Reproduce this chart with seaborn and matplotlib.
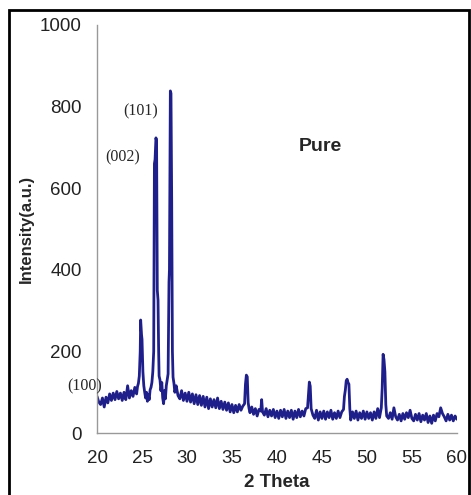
import matplotlib
matplotlib.use("Agg")
import matplotlib.pyplot as plt
import seaborn as sns
import pandas as pd
from matplotlib.patches import Rectangle

two_theta = [
    20.0, 20.2, 20.4, 20.6, 20.8, 21.0, 21.2, 21.4, 21.6, 21.8, 22.0, 22.2, 22.4, 22.6, 22.8,
    23.0, 23.2, 23.4, 23.6, 23.8, 24.0, 24.2, 24.4, 24.5, 24.6, 24.7, 24.8, 24.85, 24.95, 25.0,
    25.1, 25.2, 25.3, 25.4, 25.5, 25.6, 25.7, 25.8, 25.9, 26.0, 26.1, 26.2, 26.3, 26.38, 26.45,
    26.55, 26.62, 26.7, 26.78, 26.85, 26.9, 27.0, 27.1, 27.2, 27.3, 27.4, 27.5, 27.6, 27.7, 27.8,
    27.9, 28.0, 28.05, 28.15, 28.22, 28.3, 28.38, 28.45, 28.55, 28.65, 28.8, 29.0, 29.2, 29.4,
    29.6, 29.8, 30.0, 30.2, 30.4, 30.6, 30.8, 31.0, 31.2, 31.4, 31.6, 31.8, 32.0, 32.2, 32.4,
    32.6, 32.8, 33.0, 33.2, 33.4, 33.6, 33.8, 34.0, 34.2, 34.4, 34.6, 34.8, 35.0, 35.2, 35.4,
    35.6, 35.8, 36.0, 36.2, 36.4, 36.5, 36.6, 36.7, 36.8, 36.9, 37.0, 37.2, 37.4, 37.6, 37.8,
    38.0, 38.2, 38.3, 38.4, 38.6, 38.8, 39.0, 39.2, 39.4, 39.6, 39.8, 40.0, 40.2, 40.4, 40.6,
    40.8, 41.0, 41.2, 41.4, 41.6, 41.8, 42.0, 42.2, 42.4, 42.6, 42.8, 43.0, 43.2, 43.4, 43.5,
    43.6, 43.7, 43.8, 44.0, 44.2, 44.4, 44.6, 44.8, 45.0, 45.2, 45.4, 45.6, 45.8, 46.0, 46.2,
    46.4, 46.6, 46.8, 47.0, 47.2, 47.4, 47.5, 47.6, 47.7, 47.8, 47.9, 48.0, 48.1, 48.2, 48.4,
    48.6, 48.8, 49.0, 49.2, 49.4, 49.6, 49.8, 50.0, 50.2, 50.4, 50.6, 50.8, 51.0, 51.2, 51.4,
    51.6, 51.7, 51.8, 51.9, 52.0, 52.1, 52.2, 52.4, 52.6, 52.8, 53.0, 53.2, 53.4, 53.6, 53.8,
    54.0, 54.2, 54.4, 54.6, 54.8, 55.0, 55.2, 55.4, 55.6, 55.8, 56.0, 56.2, 56.4, 56.6, 56.8,
    57.0, 57.2, 57.4, 57.6, 57.8, 58.0, 58.2, 58.4, 58.6, 58.8, 59.0, 59.2, 59.4, 59.6, 59.8,
    60.0,
]
intensity = [
    90, 76, 70, 86, 64, 88, 74, 96, 80, 98, 82, 102, 84, 98, 80,
    100, 82, 116, 86, 104, 90, 112, 96, 114, 122, 140, 200, 277, 240, 230,
    150, 116, 100, 86, 100, 78, 94, 82, 106, 112, 124, 150, 200, 660, 670,
    723, 715, 350, 326, 200, 140, 130, 104, 124, 86, 72, 104, 84, 116, 130,
    145, 370, 400, 838, 832, 570, 200, 137, 122, 100, 116, 92, 84, 104,
    80, 98, 78, 100, 76, 96, 72, 94, 70, 92, 68, 90, 64, 88, 60,
    84, 64, 82, 62, 86, 60, 78, 58, 76, 56, 74, 52, 70, 50, 68,
    52, 70, 56, 66, 72, 120, 142, 138, 75, 60, 50, 64, 46, 60, 42,
    58, 54, 82, 52, 44, 60, 40, 56, 42, 58, 38, 54, 36, 56, 40,
    58, 36, 54, 38, 56, 34, 54, 38, 58, 40, 54, 42, 60, 62, 95,
    125, 115, 60, 44, 36, 56, 32, 52, 36, 54, 34, 52, 38, 56, 34,
    50, 36, 54, 38, 52, 58, 90, 105, 128, 132, 124, 120, 60, 32, 52,
    36, 54, 32, 50, 36, 54, 34, 52, 36, 50, 32, 52, 36, 60, 38,
    62, 110, 193, 180, 150, 70, 42, 36, 50, 34, 62, 40, 32, 46, 30,
    48, 34, 50, 38, 56, 36, 30, 46, 32, 48, 28, 44, 32, 48, 26,
    42, 24, 44, 30, 48, 40, 62, 48, 40, 30, 46, 32, 44, 30, 42,
    34,
]

x_ticks = [20, 25, 30, 35, 40, 45, 50, 55, 60]
y_ticks = [0, 200, 400, 600, 800, 1000]
peak_labels = ["(101)", "(002)", "(100)"]
sample_label = "Pure"

sns.set_style("white")
plt.rcParams["font.family"] = ["Liberation Sans", "DejaVu Sans"]

df = pd.DataFrame({"2 Theta": two_theta, "Intensity": intensity})

fig = plt.figure(figsize=(4.71, 4.95), dpi=100)
ax = fig.add_axes([0.206, 0.125, 0.764, 0.825])

sns.lineplot(data=df, x="2 Theta", y="Intensity", ax=ax, color="#1f1f8c",
             linewidth=2.0, sort=False)

ax.set_xlim(20, 60)
ax.set_ylim(0, 1000)
ax.set_xticks(x_ticks)
ax.set_yticks(y_ticks)
ax.tick_params(axis="both", direction="out", length=4, width=1, color="#999999",
               labelsize=13.5, labelcolor="#222222")
ax.tick_params(axis="x", pad=8)
ax.tick_params(axis="y", pad=7)
for s in ["top", "right"]:
    ax.spines[s].set_visible(False)
for s in ["left", "bottom"]:
    ax.spines[s].set_color("#999999")
    ax.spines[s].set_linewidth(1)

ax.set_xlabel("2 Theta", fontsize=13.5, fontweight="bold", labelpad=5)
ax.set_ylabel("Intensity(a.u.)", fontsize=12, fontweight="bold", labelpad=4)

serif = ["Liberation Serif", "DejaVu Serif"]
ax.text(24.8, 789, peak_labels[0], family=serif, fontsize=11.5, ha="center", va="center")
ax.text(22.9, 674, peak_labels[1], family=serif, fontsize=11.5, ha="center", va="center")
ax.text(18.6, 115, peak_labels[2], family=serif, fontsize=11.5, ha="center", va="center",
        clip_on=False)
ax.text(44.8, 701, sample_label, fontsize=14, fontweight="bold", ha="center", va="center")

fig.patches.append(Rectangle((0.019, -0.05), 0.977, 1.03, transform=fig.transFigure,
                             fill=False, edgecolor="black", linewidth=2, clip_on=False))

fig.savefig("out.png", dpi=100)
